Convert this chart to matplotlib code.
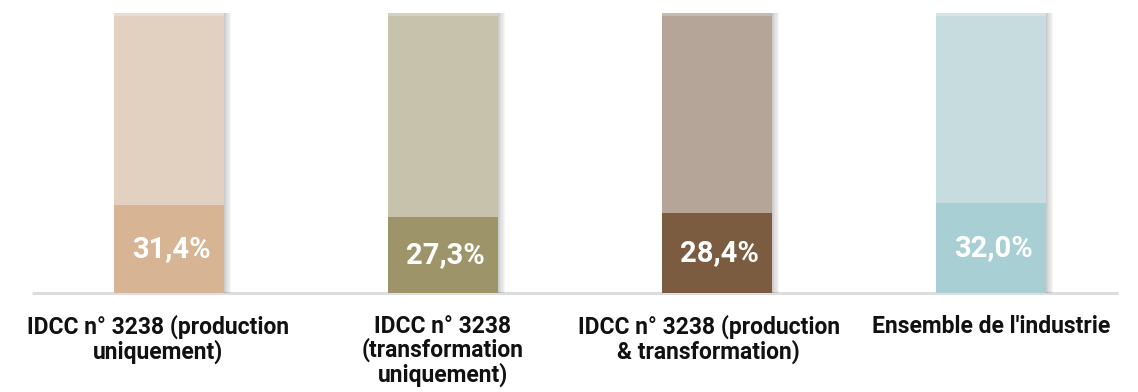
import matplotlib
matplotlib.use("Agg")
import matplotlib.pyplot as plt

categories = ["IDCC n° 3238 (production\nuniquement)",
              "IDCC n° 3238\n(transformation\nuniquement)",
              "IDCC n° 3238 (production\n& transformation)",
              "Ensemble de l'industrie"]
values = [31.4, 27.3, 28.4, 32.0]
value_labels = ["31,4%", "27,3%", "28,4%", "32,0%"]
totals = [100, 100, 100, 100]

fg_colors = ["#D7B594", "#9D9469", "#7C5C40", "#A8CFD4"]
bg_colors = ["#E2D0C0", "#C6C2AC", "#B4A598", "#C6DCDF"]
label_offsets = [-0.04, 0.0, -0.03, 0.0]

W, H = 1138, 392
fig = plt.figure(figsize=(W / 100, H / 100), dpi=100)
ax = fig.add_axes([32 / W, 99 / H, 1096 / W, 280 / H])
ax.set_xlim(-0.5, 3.5)
ax.set_ylim(0, 100)
ax.axis("off")
ax.patch.set_alpha(0)

x = list(range(len(categories)))
bw = 0.4

# soft shadows
for k in range(1, 7):
    dx = k * 1.2 / 274
    ax.bar([xi + dx for xi in x], totals, width=bw, color="#000000",
           alpha=0.035, zorder=1, linewidth=0)

ax.bar(x, totals, width=bw, color=bg_colors, zorder=2, linewidth=0)
ax.bar(x, [1.2] * 4, bottom=[t - 1.2 for t in totals], width=bw,
       color="white", alpha=0.25, zorder=3, linewidth=0)
ax.bar(x, values, width=bw, color=fg_colors, zorder=4, linewidth=0)

ax.plot([-0.5, 3.5 - 10 / 274], [0, 0], color="#DDDDDD", lw=2.2,
        zorder=0, solid_capstyle="butt", clip_on=False)

for xi, v, lab in zip(x, values, value_labels):
    ax.text(xi + 0.01, v / 2, lab, ha="center", va="center",
            color="white", fontsize=21, fontweight="bold",
            family="Roboto", zorder=6)

for xi, cat, off in zip(x, categories, label_offsets):
    ax.text(xi + off, -7.8, cat, ha="center", va="top", color="#111111",
            fontsize=16.5, fontweight="bold", family="Roboto",
            linespacing=1.0, clip_on=False)

fig.savefig("out.png", dpi=100)
